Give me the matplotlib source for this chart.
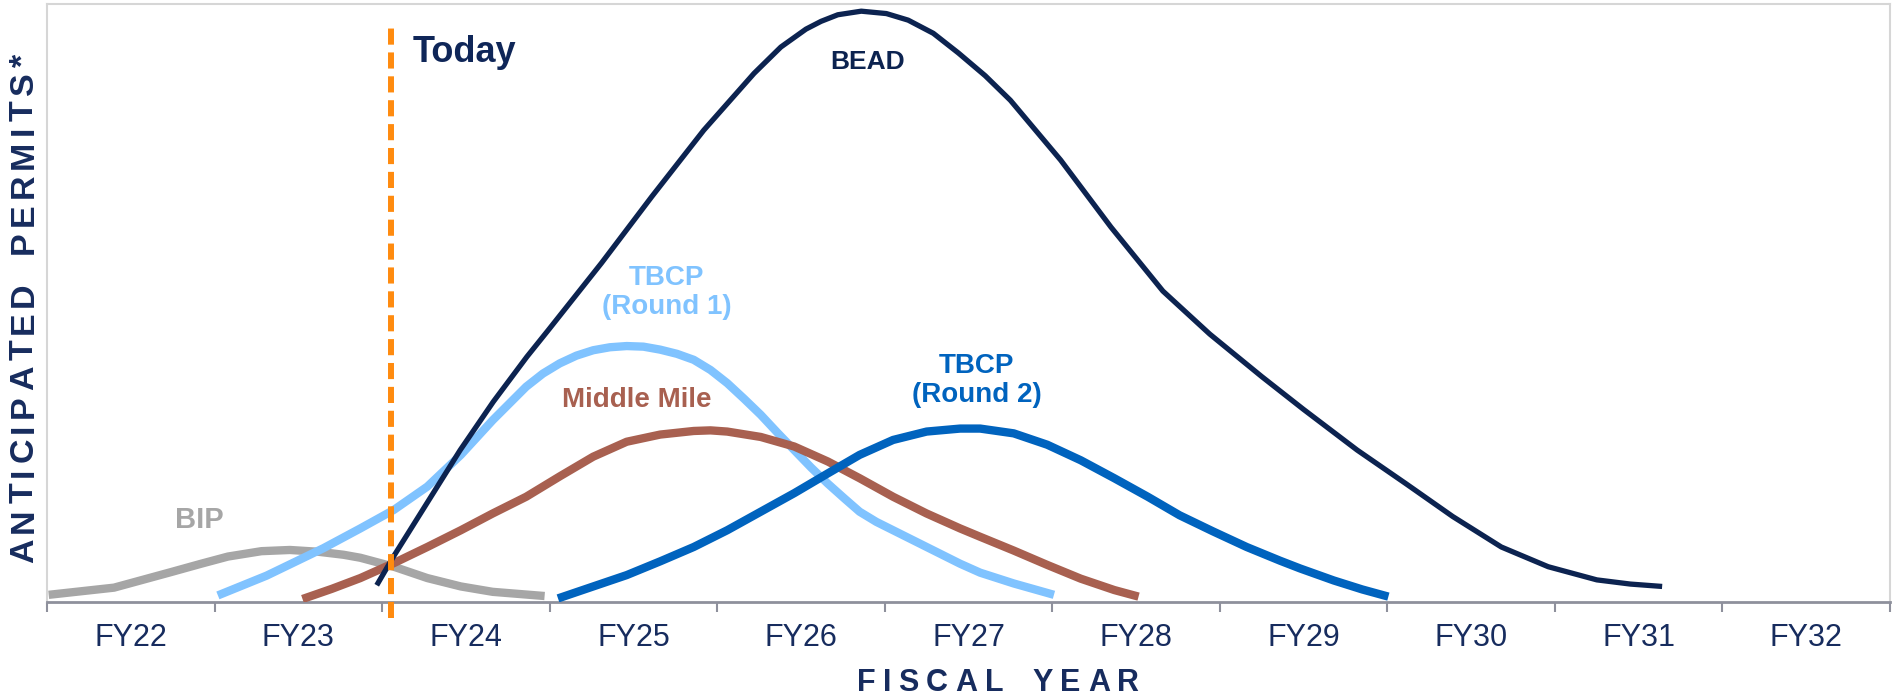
import matplotlib
matplotlib.use("Agg")
import matplotlib.pyplot as plt
from matplotlib import font_manager
from matplotlib.font_manager import FontProperties
from matplotlib.ft2font import FT2Font

# ---------------- data (x in fiscal-year units: FY22 spans 0..1) ----------------
fiscal_years = ["FY22", "FY23", "FY24", "FY25", "FY26", "FY27",
                "FY28", "FY29", "FY30", "FY31", "FY32"]

bip_x = [0.01, 0.40, 0.74, 0.92, 1.08, 1.28, 1.45, 1.62, 1.77, 1.87, 2.07, 2.27,
         2.47, 2.66, 2.97]
bip_y = [1.2, 2.4, 5.0, 6.4, 7.6, 8.5, 8.7, 8.4, 7.9, 7.4, 5.9, 4.0,
         2.6, 1.7, 1.0]

tbcp1_x = [1.02, 1.31, 1.65, 1.87, 2.07, 2.27, 2.47, 2.66, 2.86, 2.96, 3.06, 3.16,
           3.26, 3.36, 3.46, 3.56, 3.66, 3.76, 3.86, 3.96, 4.06, 4.16, 4.26, 4.36,
           4.46, 4.56, 4.66, 4.76, 4.85, 4.95, 5.05, 5.25, 5.45, 5.57, 5.77, 6.01]
tbcp1_y = [1.1, 4.4, 9.0, 12.3, 15.4, 19.3, 24.6, 30.4, 36.0, 38.2, 39.9, 41.2,
           42.1, 42.6, 42.8, 42.7, 42.2, 41.5, 40.5, 38.8, 36.6, 34.0, 31.3, 28.3,
           25.4, 22.5, 19.8, 17.3, 15.1, 13.4, 12.0, 9.2, 6.4, 4.9, 3.1, 1.2]

mm_x = [1.525, 1.70, 1.87, 2.07, 2.27, 2.47, 2.66, 2.86, 3.06, 3.26, 3.46, 3.66,
        3.86, 3.96, 4.06, 4.26, 4.46, 4.66, 4.85, 5.05, 5.25, 5.45, 5.57, 5.77,
        5.97, 6.17, 6.37, 6.515]
mm_y = [0.5, 2.2, 4.0, 6.5, 9.2, 12.0, 14.8, 17.6, 21.0, 24.3, 26.8, 28.0,
        28.6, 28.7, 28.5, 27.6, 26.0, 23.5, 20.7, 17.6, 14.8, 12.3, 10.9, 8.6,
        6.2, 3.9, 2.0, 0.9]

tbcp2_x = [3.05, 3.26, 3.46, 3.66, 3.86, 4.06, 4.26, 4.46, 4.66, 4.85, 5.05, 5.25,
           5.45, 5.57, 5.77, 5.97, 6.17, 6.37, 6.57, 6.76, 6.96, 7.16, 7.36, 7.48,
           7.68, 7.85, 8.006]
tbcp2_y = [0.6, 2.6, 4.5, 6.8, 9.2, 12.0, 15.1, 18.2, 21.5, 24.6, 27.1, 28.5,
           29.0, 29.0, 28.2, 26.3, 23.7, 20.7, 17.6, 14.5, 11.8, 9.2, 6.9, 5.6,
           3.6, 2.1, 0.9]

bead_x = [1.968, 2.068, 2.267, 2.466, 2.664, 2.864, 2.993, 3.31, 3.61, 3.92, 4.22,
          4.38, 4.53, 4.62, 4.72, 4.86, 5.01, 5.14, 5.29, 5.44, 5.60, 5.75, 6.05, 6.35,
          6.66, 6.94, 7.25, 7.50, 7.82, 8.11, 8.39, 8.68, 8.96, 9.25, 9.45, 9.64]
bead_y = [2.8, 7.6, 16.5, 25.4, 33.5, 41.0, 45.5, 56.7, 67.8, 78.9, 88.4,
          92.8, 95.8, 97.1, 98.2, 98.8, 98.4, 97.3, 95.1, 91.8, 88.0, 83.9, 73.9, 62.7,
          52.0, 44.8, 37.7, 32.2, 25.4, 19.8, 14.3, 9.2, 5.9, 3.7, 3.0, 2.6]

today_x = 2.055

# ---------------- style ----------------
W, H, DPI = 1893, 696, 100
FONT = "Liberation Sans"
NAVY = "#0F2658"
TICK_NAVY = "#172C5E"
C_BIP = "#A6A6A6"
C_T1 = "#80C3FF"
C_MM = "#A86050"
C_T2 = "#0063BE"
C_BEAD = "#0C2350"
C_TODAY = "#FF8B0F"

plt.rcParams["font.family"] = [FONT, "DejaVu Sans"]

fig = plt.figure(figsize=(W / DPI, H / DPI), dpi=DPI)
fig.patch.set_facecolor("white")
ax = fig.add_axes([47 / W, 1 - 602 / H, (1890 - 47) / W, (602 - 4) / H])
ax.set_xlim(0, len(fiscal_years))
ax.set_ylim(0, 100)

thick = 6.0
kw = dict(solid_capstyle="butt", solid_joinstyle="round")
ax.plot(bip_x, bip_y, color=C_BIP, lw=thick, zorder=2, **kw)
ax.plot(tbcp1_x, tbcp1_y, color=C_T1, lw=thick, zorder=3, **kw)
ax.plot(mm_x, mm_y, color=C_MM, lw=thick, zorder=4, **kw)
ax.plot(tbcp2_x, tbcp2_y, color=C_T2, lw=thick, zorder=5, **kw)
ax.plot(bead_x, bead_y, color=C_BEAD, lw=3.8, zorder=6, **kw)
ax.plot([today_x, today_x], [-2.6, 96.2], color=C_TODAY, lw=4.3,
        dashes=(2.7, 1.3), clip_on=False, zorder=7)

# labels on chart
ax.text(2.18, 90.3, "Today", color=NAVY, fontsize=26, fontweight="bold",
        ha="left", va="baseline", zorder=8)
ax.text(4.90, 90.3, "BEAD", color=C_BEAD, fontsize=19, fontweight="bold",
        ha="center", va="center", zorder=8)
ax.text(3.70, 51.7, "TBCP\n(Round 1)", color=C_T1, fontsize=20, fontweight="bold",
        ha="center", va="center", linespacing=1.15, zorder=8)
ax.text(3.52, 33.8, "Middle Mile", color=C_MM, fontsize=20, fontweight="bold",
        ha="center", va="center", zorder=8)
ax.text(5.55, 37.0, "TBCP\n(Round 2)", color=C_T2, fontsize=20, fontweight="bold",
        ha="center", va="center", linespacing=1.15, zorder=8)
ax.text(0.91, 13.7, "BIP", color=C_BIP, fontsize=21, fontweight="bold",
        ha="center", va="center", zorder=8)

# axes frame
for side in ["left", "top", "right"]:
    ax.spines[side].set_color("#D6D6D6")
    ax.spines[side].set_linewidth(1.5)
ax.spines["bottom"].set_color("#8E909C")
ax.spines["bottom"].set_linewidth(2.0)

ax.set_yticks([])
ax.set_xticks(range(len(fiscal_years) + 1))
ax.set_xticklabels([])
ax.set_xticks([i + 0.5 for i in range(len(fiscal_years))], minor=True)
ax.set_xticklabels(fiscal_years, minor=True)
ax.tick_params(axis="x", which="major", direction="out", length=7.5, width=1.5,
               color="#8E909C")
ax.tick_params(axis="x", which="minor", length=0, pad=15, labelsize=22,
               labelcolor=TICK_NAVY)


# ---------------- letter-spaced axis titles ----------------
def char_advances(text, size_pt):
    path = font_manager.findfont(FontProperties(family=FONT, weight="bold"))
    f = FT2Font(path)
    f.set_size(size_pt, DPI)
    adv = []
    for ch in text:
        g = f.load_char(ord(ch))
        adv.append(g.linearHoriAdvance / 65536.0)
    return adv


def spaced_text(text, size_pt, center, spacing, word_extra, vertical=False):
    adv = char_advances(text, size_pt)
    total = sum(adv) + spacing * (len(text) - 1) + word_extra * text.count(" ")
    pos = -total / 2.0
    cx, cy = center
    for ch, a in zip(text, adv):
        if ch != " ":
            if vertical:
                x, y = cx, cy - pos
                fig.text(x / W, 1 - y / H, ch, rotation=90, rotation_mode="anchor",
                         ha="left", va="baseline", fontsize=size_pt,
                         fontweight="bold", color=TICK_NAVY)
            else:
                x, y = cx + pos, cy
                fig.text(x / W, 1 - y / H, ch, ha="left", va="baseline",
                         fontsize=size_pt, fontweight="bold", color=TICK_NAVY)
        pos += a + spacing + (word_extra if ch == " " else 0)


spaced_text("FISCAL YEAR", 22, (998, 691), 7.3, 6.0)
spaced_text("ANTICIPATED PERMITS*", 24.5, (33, 308), 5.2, 8.0, vertical=True)

fig.savefig("out.png", dpi=DPI, facecolor="white")
